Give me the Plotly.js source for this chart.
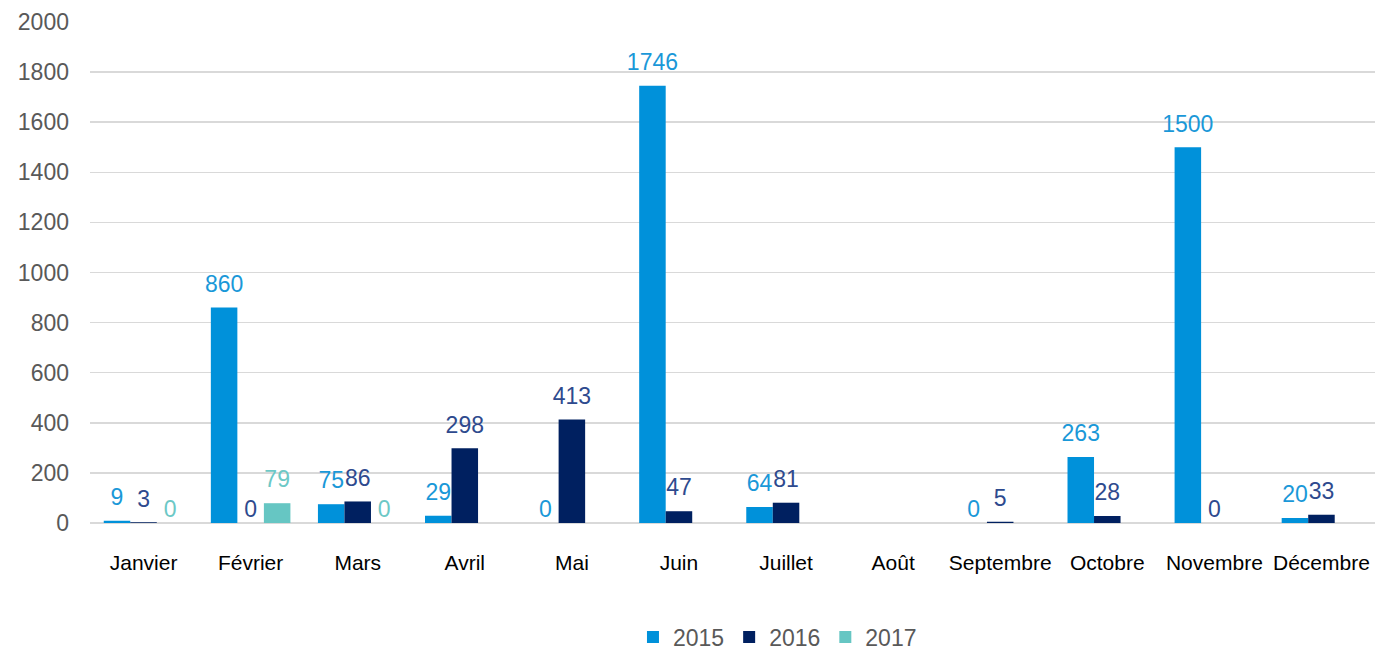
<!DOCTYPE html>
<html>
<head>
<meta charset="utf-8">
<script src="https://cdn.plot.ly/plotly-3.0.1.min.js"></script>
<style>html,body{margin:0;padding:0;background:#fff;}#chart{width:1387px;height:650px;}</style>
</head>
<body>
<div id="chart"></div>
<script>
var months = ["Janvier","Février","Mars","Avril","Mai","Juin","Juillet","Août","Septembre","Octobre","Novembre","Décembre"];
var series2015 = [9, 860, 75, 29, 0, 1746, 64, null, 0, 263, 1500, 20];
var series2016 = [3, 0, 86, 298, 413, 47, 81, null, 5, 28, 0, 33];
var series2017 = [0, 79, 0, null, null, null, null, null, null, null, null, null];
var seriesNames = ["2015", "2016", "2017"];
var yTicks = [0, 200, 400, 600, 800, 1000, 1200, 1400, 1600, 1800, 2000];

var FONT = "Liberation Sans, Arial, sans-serif";
var barColors = ["#0091DA", "#002060", "#66C6C3"];
var labelColors = ["#1A98D8", "#2E4A8E", "#6CC8C6"];
var allSeries = [series2015, series2016, series2017];

var traces = [];
allSeries.forEach(function (vals, i) {
  traces.push({
    type: "bar",
    name: seriesNames[i],
    x: months,
    y: vals,
    marker: { color: barColors[i] },
    hoverinfo: "x+y+name"
  });
});
// value labels: text scatter traces grouped like the bars (invisible markers set the gap)
allSeries.forEach(function (vals, i) {
  traces.push({
    type: "scatter",
    mode: "markers+text",
    orientation: "v",
    showlegend: false,
    x: months,
    y: vals,
    text: vals.map(function (v) { return v === null ? "" : String(v); }),
    textposition: "top center",
    textfont: { family: FONT, size: 23, color: labelColors[i] },
    marker: {
      color: "rgba(0,0,0,0)",
      opacity: 0,
      line: { width: 0, color: "rgba(0,0,0,0)" },
      size: vals.map(function (v) { return v ? 14.4 : 0; })
    },
    cliponaxis: false,
    hoverinfo: "skip"
  });
});

var layout = {
  width: 1387,
  height: 650,
  margin: { l: 90, r: 12, t: 22, b: 127 },
  paper_bgcolor: "#ffffff",
  plot_bgcolor: "#ffffff",
  barmode: "group",
  bargap: 0.257,
  bargroupgap: 0,
  scattermode: "group",
  scattergap: 0.257,
  font: { family: FONT, size: 21, color: "#595959" },
  xaxis: {
    type: "category",
    tickfont: { family: FONT, size: 21, color: "#000000" },
    showgrid: false,
    showline: false,
    ticks: "",
    ticklabelstandoff: 25
  },
  yaxis: {
    range: [0, 2000],
    tickvals: yTicks,
    ticktext: yTicks.map(String),
    tickfont: { family: FONT, size: 23, color: "#595959" },
    showgrid: true,
    gridcolor: "#D9D9D9",
    gridwidth: 1.5,
    zeroline: true,
    zerolinecolor: "#D9D9D9",
    zerolinewidth: 2,
    showline: false,
    ticks: "",
    ticklabelstandoff: 20
  },
  showlegend: true,
  legend: {
    orientation: "h",
    x: 0.535,
    xanchor: "center",
    yref: "container",
    y: 0.02,
    yanchor: "middle",
    font: { family: FONT, size: 23, color: "#595959" },
    itemwidth: 30,
    traceorder: "normal"
  }
};

Plotly.newPlot("chart", traces, layout, { displayModeBar: false, staticPlot: true });
</script>
</body>
</html>
